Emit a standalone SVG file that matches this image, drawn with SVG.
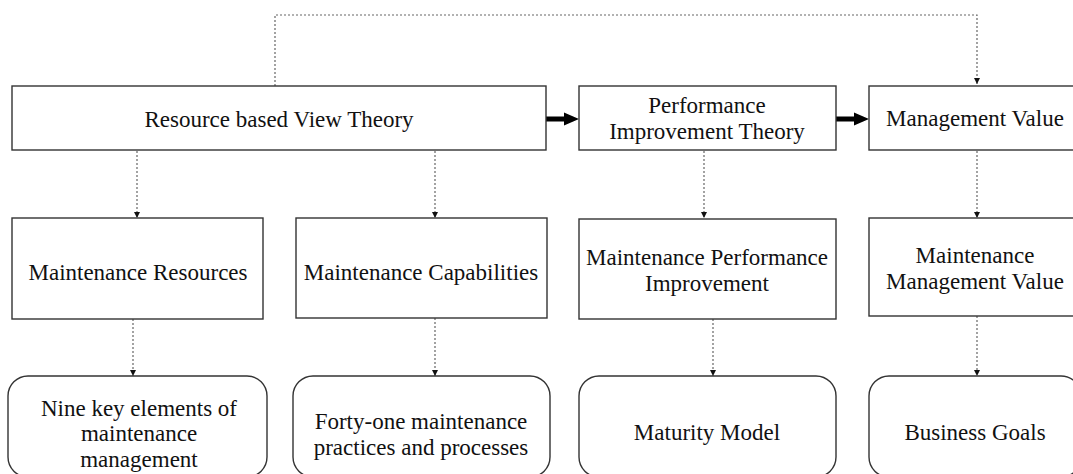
<svg xmlns="http://www.w3.org/2000/svg" width="1073" height="474" viewBox="0 0 1073 474">
  <style>
    .box { fill: #ffffff; stroke: #333333; stroke-width: 1.4; }
    .lbl { font-family: "Liberation Serif", "Times New Roman", serif; font-size: 23px; fill: #111111; text-anchor: middle; }
    .dot { fill: none; stroke: #666666; stroke-width: 1.2; stroke-dasharray: 2 2; }
    .thick { fill: #000000; stroke: none; }
  </style>
  <defs>
    <marker id="tip" markerUnits="userSpaceOnUse" markerWidth="7" markerHeight="7" refX="6" refY="3" orient="auto">
      <path d="M0,0 L6,3 L0,6 Z" fill="#111111"/>
    </marker>
  </defs>

  <!-- connectors -->
  <g id="connectors">
    <!-- solid block arrows between the theories -->
    <path class="thick" d="M546,116.5 H564 V112.5 L579,119 L564,125.5 V121.5 H546 Z"/>
    <path class="thick" d="M836,116.5 H854 V112.5 L869,119 L854,125.5 V121.5 H836 Z"/>
    <!-- dotted links -->
    <path class="dot" d="M275,86 V15 H977 V84" marker-end="url(#tip)"/>
    <path class="dot" d="M137,151 V218" marker-end="url(#tip)"/>
    <path class="dot" d="M435,151 V218" marker-end="url(#tip)"/>
    <path class="dot" d="M704,151 V218" marker-end="url(#tip)"/>
    <path class="dot" d="M977,151 V218" marker-end="url(#tip)"/>
    <path class="dot" d="M133,319 V376" marker-end="url(#tip)"/>
    <path class="dot" d="M435,318 V376" marker-end="url(#tip)"/>
    <path class="dot" d="M713,319 V376" marker-end="url(#tip)"/>
    <path class="dot" d="M977,316 V376" marker-end="url(#tip)"/>
  </g>

  <!-- top row: theories -->
  <g id="rbv-theory">
    <rect class="box" x="12" y="86" width="534" height="64"/>
    <text class="lbl" x="279" y="127">Resource based View Theory</text>
  </g>
  <g id="pi-theory">
    <rect class="box" x="579" y="86" width="257" height="64"/>
    <text class="lbl" x="707" y="113">Performance</text>
    <text class="lbl" x="707" y="139">Improvement Theory</text>
  </g>
  <g id="mgmt-value">
    <rect class="box" x="869" y="86" width="212" height="64"/>
    <text class="lbl" x="975" y="126">Management Value</text>
  </g>

  <!-- middle row -->
  <g id="maint-resources">
    <rect class="box" x="12" y="218" width="251" height="101"/>
    <text class="lbl" x="138" y="280">Maintenance Resources</text>
  </g>
  <g id="maint-capabilities">
    <rect class="box" x="296" y="218" width="251" height="100"/>
    <text class="lbl" x="421" y="280">Maintenance Capabilities</text>
  </g>
  <g id="maint-performance">
    <rect class="box" x="579" y="219" width="257" height="100"/>
    <text class="lbl" x="707" y="265">Maintenance Performance</text>
    <text class="lbl" x="707" y="291">Improvement</text>
  </g>
  <g id="maint-mgmt-value">
    <rect class="box" x="869" y="218" width="212" height="98"/>
    <text class="lbl" x="975" y="263">Maintenance</text>
    <text class="lbl" x="975" y="289">Management Value</text>
  </g>

  <!-- bottom row -->
  <g id="nine-elements">
    <rect class="box" x="8" y="376" width="259" height="101" rx="20" ry="20"/>
    <text class="lbl" x="139" y="416">Nine key elements of</text>
    <text class="lbl" x="139" y="441">maintenance</text>
    <text class="lbl" x="139" y="467">management</text>
  </g>
  <g id="forty-one-practices">
    <rect class="box" x="293" y="376" width="257" height="101" rx="20" ry="20"/>
    <text class="lbl" x="421" y="429">Forty-one maintenance</text>
    <text class="lbl" x="421" y="455">practices and processes</text>
  </g>
  <g id="maturity-model">
    <rect class="box" x="579" y="376" width="257" height="101" rx="20" ry="20"/>
    <text class="lbl" x="707" y="440">Maturity Model</text>
  </g>
  <g id="business-goals">
    <rect class="box" x="869" y="376" width="212" height="101" rx="20" ry="20"/>
    <text class="lbl" x="975" y="440">Business Goals</text>
  </g>
</svg>
